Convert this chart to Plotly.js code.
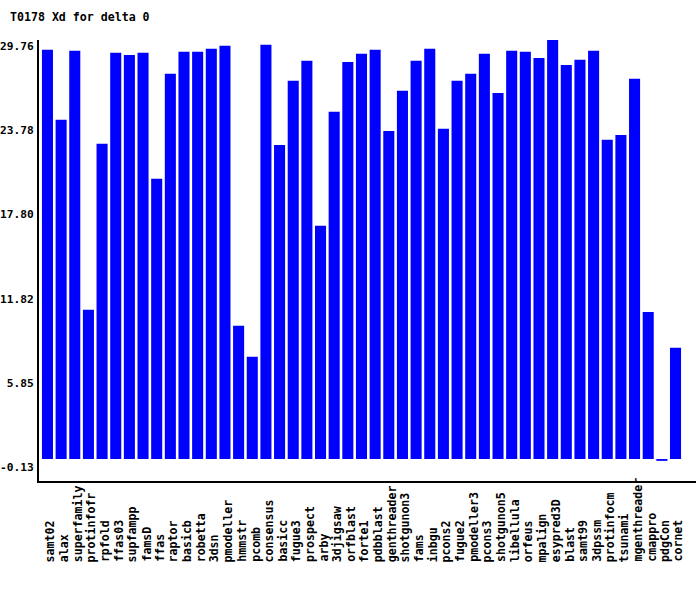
<!DOCTYPE html>
<html>
<head>
<meta charset="utf-8">
<script src="https://cdn.plot.ly/plotly-3.0.1.min.js"></script>
<style>html,body{margin:0;padding:0;background:#fff;}#chart{width:700px;height:590px;}</style>
</head>
<body>
<div id="chart"></div>
<script>
const methods = ["samt02","alax","superfamily","protinfofr","rpfold","ffas03","supfampp","famsD","ffas","raptor","basicb","robetta","3dsn","pmodeller","hmmstr","pcomb","consensus","basicc","fugue3","prospect","arby","3djigsaw","orfblast","forte1","pdbblast","genthreader","shotgunon3","fams","inbgu","pcons2","fugue2","pmodeller3","pcons3","shotgunon5","libellula","orfeus","mpalign","esypred3D","blast","samt99","3dpssm","protinfocm","tsunami","mgenthreader","cmappro","pdgCon","cornet"];
const xdValues = [29.06,24.10,29.00,10.60,22.40,28.85,28.70,28.85,19.90,27.36,28.92,28.92,29.13,29.35,9.46,7.26,29.42,22.30,26.86,28.28,16.56,24.66,28.20,28.78,29.06,23.30,26.15,28.28,29.13,23.45,26.86,27.36,28.78,26.00,28.99,28.92,28.49,29.76,27.99,28.35,28.99,22.67,23.02,27.00,10.45,-0.13,7.90];
const yTickVals = [-0.13,5.85,11.82,17.80,23.78,29.76];
const yTickText = ["-0.13","5.85","11.82","17.80","23.78","29.76"];
const chartTitle = "T0178 Xd for delta 0";

const FONT = "DejaVu Sans Mono, Liberation Mono, monospace";
const idx = methods.map((_, i) => i);

const annotations = methods.map((m, i) => ({
  x: i, xref: 'x', y: -0.186, yref: 'paper',
  text: '<b>' + m + '</b>', textangle: -90, showarrow: false,
  xanchor: 'center', yanchor: 'bottom', xshift: 3, borderpad: 0,
  font: {family: FONT, size: 11.6, color: '#000'}
}));

const data = [{
  type: 'bar', x: idx, y: xdValues,
  marker: {color: '#0000ff', line: {width: 0}},
  hoverinfo: 'skip'
}];

const layout = {
  width: 700, height: 590,
  margin: {l: 39, r: 4, t: 40, b: 109, pad: 0},
  paper_bgcolor: '#fff', plot_bgcolor: '#fff',
  showlegend: false, bargap: 0.19,
  title: {text: '<b>' + chartTitle + '</b>', xref: 'container', x: 10/700, xanchor: 'left',
          yref: 'container', y: 1 - 17/590, yanchor: 'middle',
          font: {family: FONT, size: 11.6, color: '#000'}},
  xaxis: {range: [-0.62, 47.5], showticklabels: false, ticks: '', showgrid: false,
          zeroline: false, showline: true, linecolor: '#000', linewidth: 2, fixedrange: true},
  yaxis: {range: [-1.56, 29.76], tickvals: yTickVals, ticktext: yTickText.map(t => '<b>' + t + '</b>'),
          ticks: '', showgrid: false, zeroline: false, showline: true, linecolor: '#000', linewidth: 2,
          ticklabelshift: 6, ticklabelstandoff: 1,
          tickfont: {family: FONT, size: 11.2, color: '#000'}, fixedrange: true},
  annotations: annotations
};

Plotly.newPlot('chart', data, layout, {staticPlot: true, displayModeBar: false});
</script>
</body>
</html>
